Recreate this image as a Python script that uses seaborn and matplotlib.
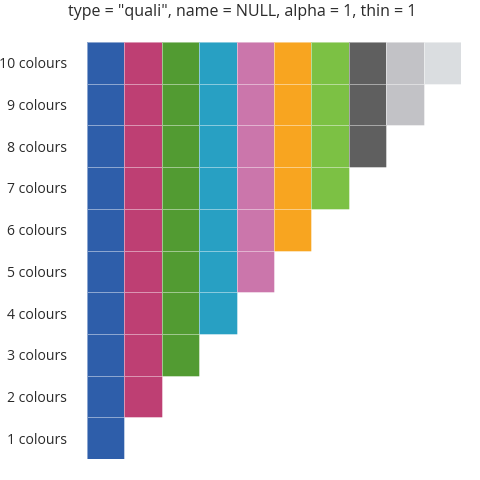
import numpy as np
import pandas as pd
import matplotlib
matplotlib.use("Agg")
import matplotlib.pyplot as plt
from matplotlib.colors import ListedColormap
import seaborn as sns

palette = ["#2E5EAA", "#BE3F73", "#529B32", "#28A0C3", "#CB76AB",
           "#F8A520", "#7CC144", "#5F5F5F", "#C2C2C6", "#DADDE0"]
n_colours = [10, 9, 8, 7, 6, 5, 4, 3, 2, 1]
row_labels = [f"{n} colours" for n in n_colours]
title = 'type = "quali", name = NULL, alpha = 1, thin = 1'

ncol = len(palette)
mat = np.full((len(n_colours), ncol), np.nan)
for i, n in enumerate(n_colours):
    mat[i, :n] = np.arange(n)
df = pd.DataFrame(mat, index=row_labels, columns=range(ncol))

sns.set_style("white")
plt.rcParams['font.family'] = ['Open Sans', 'DejaVu Sans']

fig = plt.figure(figsize=(4.8, 4.8), dpi=100)
ax = fig.add_axes([87/480, 1 - 459/480, (461 - 87)/480, (459 - 42)/480])
sns.heatmap(df, ax=ax, cmap=ListedColormap(palette), vmin=-0.5, vmax=ncol - 0.5,
            cbar=False, linewidths=0.6, linecolor=(1, 1, 1, 0.45),
            xticklabels=False, yticklabels=True)
ax.tick_params(axis='y', length=0, pad=14.4, labelsize=10.1, labelcolor="#2a2a2a")
for lab in ax.get_yticklabels():
    lab.set_rotation(0)
    lab.set_va('center_baseline')
ax.set_ylabel("")
ax.set_xlabel("")
fig.text(242/480, 1 - 12/480, title, ha='center', va='center', fontsize=11.5, color="#2a2a2a")
fig.savefig("out.png", dpi=100)
